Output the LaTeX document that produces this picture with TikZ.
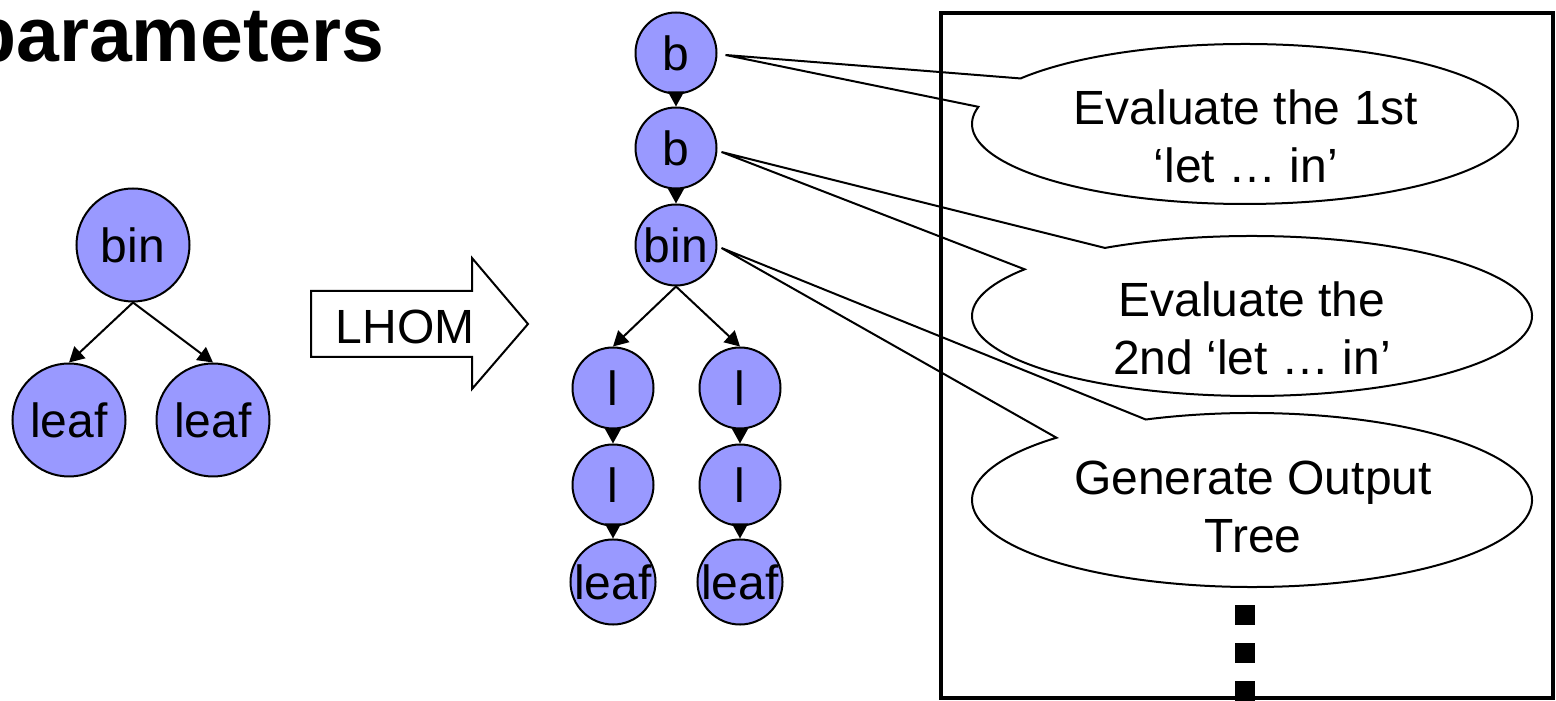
\documentclass[tikz,border=0pt]{standalone}
\usepackage{fontspec}
\setmainfont{Liberation Sans}
\usetikzlibrary{arrows.meta,calc}
\definecolor{nodeblue}{RGB}{153,153,255}
\begin{document}
\begin{tikzpicture}[x=1pt,y=1pt,
  tnode/.style={circle,draw,line width=2pt,fill=nodeblue,inner sep=0pt,
    font=\fontsize{48}{57}\selectfont},
  bignode/.style={tnode,minimum size=113pt},
  smallnode/.style={tnode,minimum size=81pt},
  link/.style={line width=2pt,-{Triangle[length=15pt,width=16pt]}},
  callout/.style={line width=2pt,fill=white,line join=miter},
  ctext/.style={font=\fontsize{48}{57}\selectfont,anchor=base,inner sep=0pt},
  frame/.style={line width=3.5pt},
  dot/.style={fill=black,minimum size=20pt,inner sep=0pt},
]
\useasboundingbox (0,0) rectangle (1556,701);

% heading
\node[anchor=base west,inner sep=0pt,font=\fontsize{77}{90}\selectfont\bfseries]
  (title) at (-31,639) {parameters};

% input tree
\node[bignode] (ibin)   at (133,456) {bin};
\node[bignode] (ileafL) at (69,281)  {leaf};
\node[bignode] (ileafR) at (213,281) {leaf};
\draw[link] (ibin.south) -- (ileafL.north);
\draw[link] (ibin.south) -- (ileafR.north);

% block arrow
\draw[line width=2pt,line join=miter]
  (311,410) -- (472,410) -- (472,443) -- (528,377) -- (472,312)
  -- (472,344) -- (311,344) -- cycle;
\node[ctext] (lhom) at (405,357) {LHOM};

% transformed tree
\node[smallnode] (b1)    at (676,648) {b};
\node[smallnode] (b2)    at (676,553) {b};
\node[smallnode] (mbin)  at (676,456) {bin};
\node[smallnode] (lA1)   at (613,313) {l};
\node[smallnode] (lA2)   at (613,216) {l};
\node[smallnode] (leafA) at (613,119) {leaf};
\node[smallnode] (lB1)   at (740,313) {l};
\node[smallnode] (lB2)   at (740,216) {l};
\node[smallnode] (leafB) at (740,119) {leaf};
\draw[link] (b1.south) -- (b2.north);
\draw[link] (b2.south) -- (mbin.north);
\draw[link] (mbin.south) -- (lA1.north);
\draw[link] (mbin.south) -- (lB1.north);
\draw[link] (lA1.south) -- (lA2.north);
\draw[link] (lA2.south) -- (leafA.north);
\draw[link] (lB1.south) -- (lB2.north);
\draw[link] (lB2.south) -- (leafB.north);

% callouts
\coordinate (e1) at (1245,577);
\coordinate (e2) at (1252,385);
\coordinate (e3) at (1252,201);
\draw[callout] ($(e1)+(167.6:273pt and 80pt)$)
  -- ([xshift=8pt,yshift=-2pt]b1.east)
  -- ($(e1)+(145.3:273pt and 80pt)$)
  arc[start angle=145.3,end angle=-192.4,x radius=273pt,y radius=80pt] -- cycle;
\draw[callout] ($(e2)+(144.3:280pt and 80pt)$)
  -- ([xshift=4pt,yshift=-4pt]b2.east)
  -- ($(e2)+(121.7:280pt and 80pt)$)
  arc[start angle=121.7,end angle=-215.7,x radius=280pt,y radius=80pt] -- cycle;
\draw[callout] ($(e3)+(134.3:280pt and 87pt)$)
  -- ([xshift=4pt,yshift=-3pt]mbin.east)
  -- ($(e3)+(112.3:280pt and 87pt)$)
  arc[start angle=112.3,end angle=-225.7,x radius=280pt,y radius=87pt] -- cycle;

\node[ctext] (t1a) at (1246,576) {Evaluate the 1st};
\node[ctext] (t1b) at (1246,518) {‘let … in’};
\node[ctext] (t2a) at (1252,384) {Evaluate the};
\node[ctext] (t2b) at (1252,326) {2nd ‘let … in’};
\node[ctext] (t3a) at (1253,206) {Generate Output};
\node[ctext] (t3b) at (1253,148) {Tree};

% continuation marks
\node[dot] (d1) at (1245,86) {};
\node[dot] (d2) at (1245,48) {};
\node[dot] (d3) at (1245,10) {};

% frame
\draw[frame] (941,688) rectangle (1553,3);
\end{tikzpicture}
\end{document}
